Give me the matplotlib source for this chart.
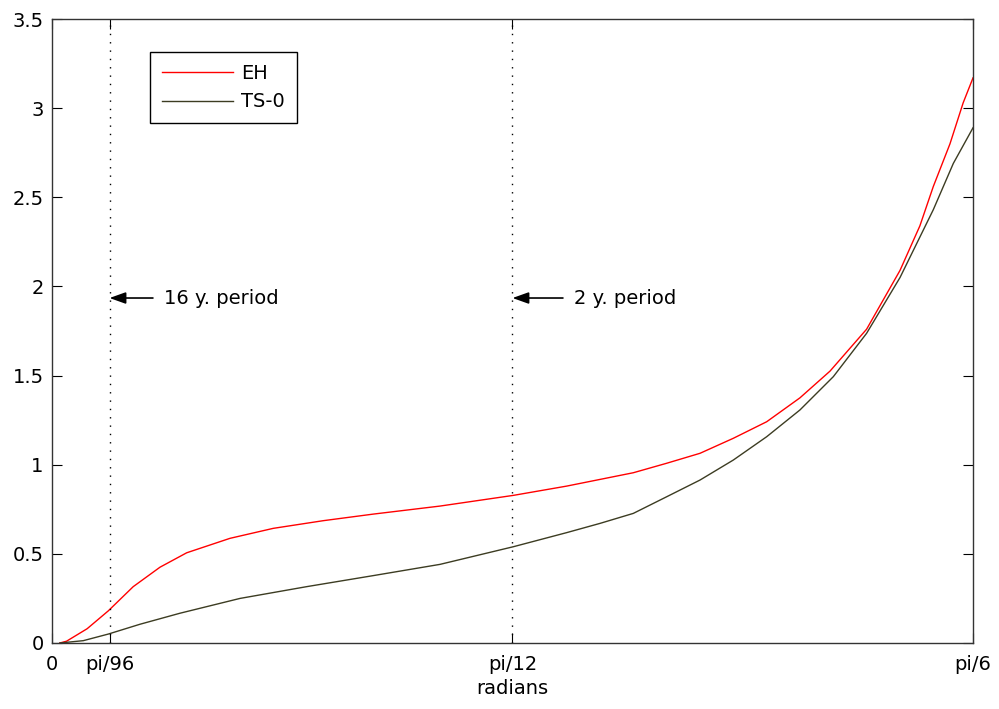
import numpy as np
import matplotlib.pyplot as plt

plt.rcParams['font.family'] = ['DejaVu Sans']

# EH curve
x_eh = [0.0045, 0.0083, 0.020, 0.032, 0.0462, 0.0614, 0.0766, 0.1012, 0.1258, 0.1542,
        0.1827, 0.2206, 0.2623, 0.2926, 0.3305, 0.3494, 0.3684, 0.3873, 0.4063, 0.4252,
        0.4423, 0.4631, 0.4821, 0.4934, 0.501, 0.5105, 0.518, 0.5236]
y_eh = [0.0, 0.01, 0.08, 0.18, 0.316, 0.425, 0.506, 0.587, 0.643, 0.686,
        0.723, 0.768, 0.828, 0.88, 0.955, 1.008, 1.064, 1.148, 1.241, 1.375,
        1.525, 1.76, 2.09, 2.34, 2.56, 2.80, 3.03, 3.17]

# TS-0 curve
x_ts = [0.0045, 0.0178, 0.032, 0.05, 0.0728, 0.1069, 0.1448, 0.1827, 0.2206, 0.2623,
        0.2926, 0.3116, 0.3305, 0.3494, 0.3684, 0.3873, 0.4063, 0.4252, 0.4442, 0.4631,
        0.4821, 0.501, 0.5124, 0.5236]
y_ts = [0.0, 0.013, 0.05, 0.105, 0.167, 0.25, 0.316, 0.378, 0.441, 0.54,
        0.619, 0.671, 0.727, 0.82, 0.914, 1.026, 1.157, 1.307, 1.494, 1.737,
        2.05, 2.43, 2.69, 2.89]

xticks = [0, np.pi/96, np.pi/12, np.pi/6]
xticklabels = ['0', 'pi/96', 'pi/12', 'pi/6']
yticks = [0, 0.5, 1, 1.5, 2, 2.5, 3, 3.5]
yticklabels = ['0', '0.5', '1', '1.5', '2', '2.5', '3', '3.5']

fig = plt.figure(figsize=(9.99, 7.09), dpi=100)
ax = fig.add_axes([0.052, 0.0931, 0.922, 0.8801])

ax.plot(x_eh, y_eh, color='red', lw=1.0, label='EH')
ax.plot(x_ts, y_ts, color='#3c3c22', lw=1.0, label='TS-0')

# period markers
ax.axvline(np.pi/96, color='black', ls=(0, (1, 5)), lw=1.0)
ax.axvline(np.pi/12, color='black', ls=(0, (1, 5)), lw=1.0)
arrow = dict(arrowstyle='-|>,head_length=0.7,head_width=0.25', color='black', lw=1.2,
             shrinkA=6, shrinkB=0)
ax.annotate('16 y. period', xy=(np.pi/96, 1.935), xytext=(np.pi/96 + 0.031, 1.935),
            va='center', fontsize=14, arrowprops=arrow)
ax.annotate('2 y. period', xy=(np.pi/12, 1.935), xytext=(np.pi/12 + 0.035, 1.935),
            va='center', fontsize=14, arrowprops=arrow)

ax.set_xlim(0, np.pi/6)
ax.set_ylim(0, 3.5)
ax.set_xticks(xticks)
ax.set_xticklabels(xticklabels)
ax.set_yticks(yticks)
ax.set_yticklabels(yticklabels)
ax.tick_params(direction='in', top=True, right=True, length=7, labelsize=14)
ax.tick_params(axis='x', pad=9)
ax.tick_params(axis='y', pad=6)
ax.set_xlabel('radians', fontsize=14, labelpad=3)
for s in ax.spines.values():
    s.set_linewidth(1.0)
    s.set_color('#333333')

leg = ax.legend(loc='upper left', bbox_to_anchor=(0.1064, 0.947), borderaxespad=0,
                fontsize=14, fancybox=False, edgecolor='black', framealpha=1,
                handlelength=3.65, handletextpad=0.45, borderpad=0.6, labelspacing=0.5)
leg.get_frame().set_linewidth(1.0)

fig.savefig('out.png', dpi=100)
